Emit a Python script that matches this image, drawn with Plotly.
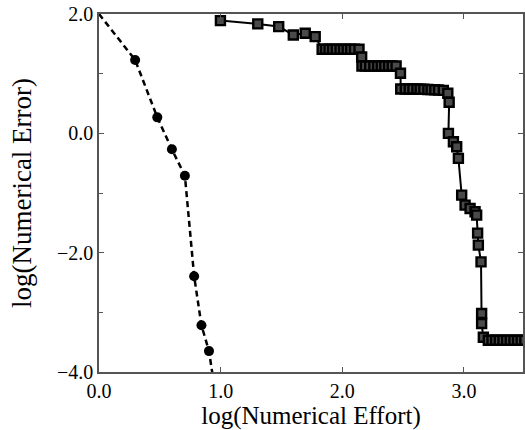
import plotly.graph_objects as go

# log(effort) / log(error)
circle_x = [0.297, 0.479, 0.599, 0.706, 0.782, 0.842, 0.904]
circle_y = [1.23, 0.268, -0.268, -0.711, -2.394, -3.216, -3.65]
# dashed fit runs from the corner and past the bottom edge
fit_x = [0.0] + circle_x + [0.96]
fit_y = [2.0] + circle_y + [-4.4]

square_x = [0.998, 1.305, 1.477, 1.597, 1.695, 1.777,
            1.834, 1.862, 1.891, 1.92, 1.95, 1.981, 2.01, 2.04, 2.069, 2.10, 2.137,
            2.159, 2.161, 2.19, 2.225, 2.259, 2.29, 2.32, 2.349, 2.38, 2.41, 2.442,
            2.478, 2.48, 2.518, 2.55, 2.58, 2.613, 2.64, 2.67, 2.703, 2.73, 2.76, 2.791,
            2.83, 2.867, 2.878, 2.872, 2.913, 2.94, 2.954, 2.981, 3.009, 3.05, 3.091,
            3.104, 3.112, 3.118, 3.14, 3.145, 3.145, 3.159,
            3.2, 3.23, 3.26, 3.29, 3.32, 3.35, 3.38, 3.41, 3.44, 3.47, 3.5]
square_y = [1.889, 1.834, 1.789, 1.649, 1.678, 1.621,
            1.409, 1.409, 1.409, 1.409, 1.409, 1.409, 1.409, 1.409, 1.409, 1.409, 1.409,
            1.28, 1.129, 1.129, 1.129, 1.129, 1.129, 1.129, 1.129, 1.129, 1.129, 1.129,
            1.007, 0.743, 0.743, 0.743, 0.743, 0.743, 0.74, 0.738, 0.735, 0.733, 0.73, 0.727,
            0.72, 0.671, 0.52, 0.0, -0.141, -0.225, -0.419, -1.035, -1.203, -1.26, -1.315,
            -1.371, -1.673, -1.874, -2.154, -3.02, -3.188, -3.418,
            -3.468, -3.468, -3.468, -3.468, -3.468, -3.468, -3.468, -3.468, -3.468, -3.468, -3.468]

x_ticks = [0.0, 1.0, 2.0, 3.0]
y_ticks = [-4.0, -2.0, 0.0, 2.0]

SERIF = "Liberation Serif, Times New Roman, DejaVu Serif, serif"

fig = go.Figure()

fig.add_trace(go.Scatter(x=fit_x, y=fit_y, mode="lines",
                         line=dict(color="black", width=2.5, dash="6px,4px"),
                         hoverinfo="skip"))
fig.add_trace(go.Scatter(x=circle_x, y=circle_y, mode="markers",
                         marker=dict(symbol="circle", size=10, color="black")))
fig.add_trace(go.Scatter(x=square_x, y=square_y, mode="lines+markers",
                         line=dict(color="black", width=2),
                         marker=dict(symbol="square", size=9, color="#4a4a4a",
                                     line=dict(color="#000000", width=2.4))))

axis_common = dict(
    showline=True, linecolor="#555555", linewidth=1.5, mirror="ticks",
    ticks="inside", ticklen=5, tickcolor="#555555", tickwidth=1.2,
    showgrid=False, zeroline=False,
    tickfont=dict(family=SERIF, size=20, color="black"),
)

fig.update_xaxes(range=[0, 3.485], tickvals=x_ticks,
                 ticktext=["%.1f" % v for v in x_ticks],
                 title=dict(text="log(Numerical Effort)", standoff=0,
                            font=dict(family=SERIF, size=25, color="black")),
                 **axis_common)
fig.update_yaxes(range=[-4, 2], tickvals=y_ticks,
                 ticktext=["\u2212%.1f" % -v if v < 0 else "%.1f" % v for v in y_ticks],
                 minor=dict(tickvals=[-3, -1, 1], ticks="inside", ticklen=4,
                            tickcolor="#555555"),
                 title=dict(text="log(Numerical Error)", standoff=18,
                            font=dict(family=SERIF, size=27, color="black")),
                 **axis_common)

fig.update_layout(
    width=525, height=430,
    margin=dict(l=99, r=0, t=14, b=58),
    plot_bgcolor="white", paper_bgcolor="white",
    showlegend=False,
)

# drop the default page margin so the figure fills the window exactly
fig.write_html("out.html", config={"displayModeBar": False},
               post_script="document.body.style.margin='0';"
                           "document.body.style.overflow='hidden';")
